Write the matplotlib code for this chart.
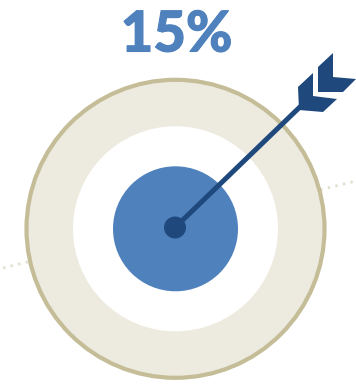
import matplotlib
matplotlib.use("Agg")
import matplotlib.pyplot as plt
import matplotlib.patheffects as pe
from matplotlib.patches import Circle, Polygon

WIDTH, HEIGHT = 356, 384

LABEL = "15%"
CENTER = (175.5, 228.8)
HUB_CENTER = (175, 227.5)
RING_RADII = [149, 102.5, 62.5]
RING_COLORS = ["#EDEBE0", "#FFFFFF", "#4F81BD"]
HUB_RADIUS = 11
DARK_BLUE = "#1F497D"
RIM_COLOR = "#C4BD97"
ARROW_END = (303, 104)
FLETCH_NEAR = [(298, 87), (313, 73), (313, 96), (337, 99), (323, 112), (299, 110)]
FLETCH_FAR = [(318, 67), (333, 53), (333, 77), (356, 79), (343, 92), (318, 92)]
HORIZON_X = [3, 356]
HORIZON_Y = [268, 181]

fig = plt.figure(figsize=(WIDTH / 100, HEIGHT / 100), dpi=100)
ax = fig.add_axes([0, 0, 1, 1])
ax.set_xlim(0, WIDTH)
ax.set_ylim(HEIGHT, 0)
ax.axis("off")

# Dotted horizon running behind the target
ax.plot(HORIZON_X, HORIZON_Y, color="#E4E1D0", lw=2.0,
        linestyle=(0, (0.9, 1.9)), zorder=1)

# Concentric rings, outermost first
for i, (r, c) in enumerate(zip(RING_RADII, RING_COLORS)):
    edge = RIM_COLOR if i == 0 else c
    lw = 3.0 if i == 0 else 0
    ax.add_patch(Circle(CENTER, r, facecolor=c, edgecolor=edge, linewidth=lw, zorder=2 + i * 0.1))

# Arrow shaft, fletching and the hub it lands in
ax.plot([HUB_CENTER[0], ARROW_END[0]], [HUB_CENTER[1], ARROW_END[1]],
        color=DARK_BLUE, lw=3.6, solid_capstyle="butt", zorder=4)
for pts in (FLETCH_NEAR, FLETCH_FAR):
    ax.add_patch(Polygon(pts, closed=True, facecolor=DARK_BLUE, edgecolor="none", zorder=4))
ax.add_patch(Circle(HUB_CENTER, HUB_RADIUS, facecolor=DARK_BLUE, edgecolor="none", zorder=5))

# Headline figure, thickened slightly with a same-colour outline
label = ax.text(176.5, 51.5, LABEL, color=RING_COLORS[2], fontsize=40.5, fontweight=900,
                family="Lato", ha="center", va="baseline")
label.set_path_effects([pe.withStroke(linewidth=0.8, foreground=RING_COLORS[2])])

fig.savefig("out.png", dpi=100)
